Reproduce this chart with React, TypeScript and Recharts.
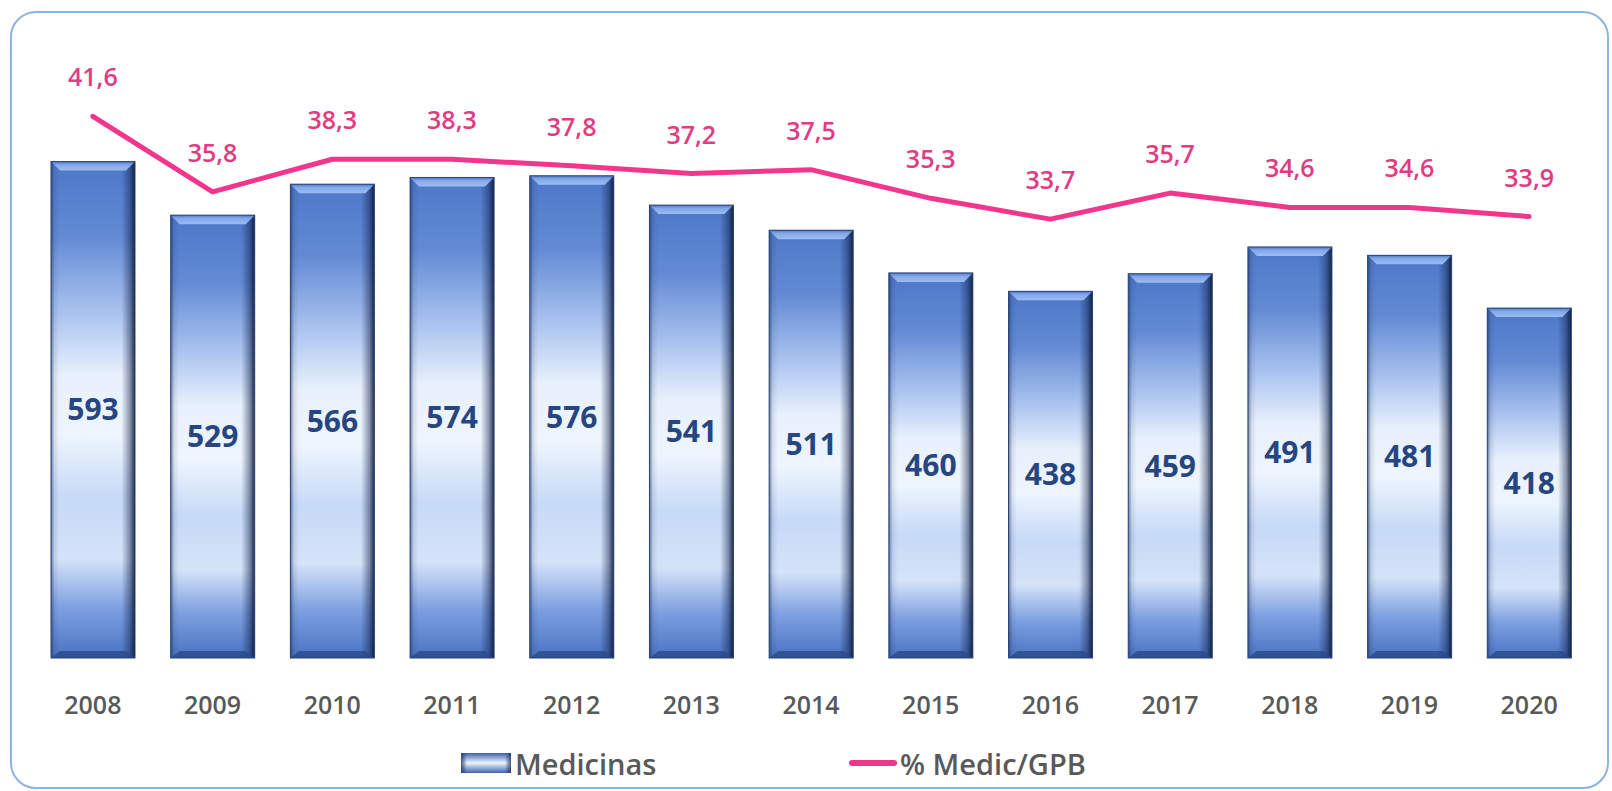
import { Bar, ComposedChart, LabelList, Legend, Line, XAxis, YAxis } from "recharts"

// values
const years = ["2008", "2009", "2010", "2011", "2012", "2013", "2014", "2015", "2016", "2017", "2018", "2019", "2020"]
const medicinas = [593, 529, 566, 574, 576, 541, 511, 460, 438, 459, 491, 481, 418]
const medicGpb = [41.6, 35.8, 38.3, 38.3, 37.8, 37.2, 37.5, 35.3, 33.7, 35.7, 34.6, 34.6, 33.9]

const data = years.map((year, i) => ({
  year,
  medicinas: medicinas[i],
  pct: medicGpb[i],
}))

const FONT = "'Open Sans', 'Noto Sans', sans-serif"
const PINK = "#f2358d"

function BevelBar(props: any) {
  const { x, y, width, height } = props
  if (!height || height <= 0) return null
  const b = 9
  return (
    <g>
      <rect x={x} y={y} width={width} height={height} fill="url(#barVertical)" />
      <rect x={x} y={y} width={width} height={height} fill="url(#barSides)" />
      <polygon
        points={`${x},${y} ${x + width},${y} ${x + width - b},${y + b} ${x + b},${y + b}`}
        fill="url(#barTop)"
      />
      <polygon
        points={`${x},${y + height} ${x + width},${y + height} ${x + width - b},${y + height - 7} ${x + b},${y + height - 7}`}
        fill="#2a4889"
        opacity={0.8}
      />
      <rect x={x} y={y} width={width} height={height} fill="none" stroke="#2a4275" strokeWidth={1} />
    </g>
  )
}

function LegendContent() {
  return (
    <div style={{ position: "relative", height: 40, fontFamily: FONT, fontSize: 29, fontWeight: 600, color: "#595959" }}>
      <div style={{ position: "absolute", left: 460, top: 0, height: 40, display: "flex", alignItems: "center" }}>
        <svg width={52} height={22} style={{ marginRight: 3 }}>
          <defs>
            <linearGradient id="legendSwatch" x1="0" y1="0" x2="0" y2="1">
              <stop offset="0" stopColor="#3d63ad" />
              <stop offset="0.5" stopColor="#eef4fe" />
              <stop offset="1" stopColor="#3d63ad" />
            </linearGradient>
            <linearGradient id="legendSides" x1="0" y1="0" x2="1" y2="0">
              <stop offset="0" stopColor="#1c3366" stopOpacity={0.8} />
              <stop offset="0.12" stopColor="#1c3366" stopOpacity={0} />
              <stop offset="0.88" stopColor="#1c3366" stopOpacity={0} />
              <stop offset="1" stopColor="#1c3366" stopOpacity={0.8} />
            </linearGradient>
          </defs>
          <rect x={1} y={1} width={50} height={20} fill="url(#legendSwatch)" />
          <rect x={1} y={1} width={50} height={20} fill="url(#legendSides)" />
        </svg>
        <span>Medicinas</span>
      </div>
      <div style={{ position: "absolute", left: 849, top: 0, height: 40, display: "flex", alignItems: "center" }}>
        <svg width={48} height={10} style={{ marginRight: 3 }}>
          <line x1={3} y1={5} x2={45} y2={5} stroke={PINK} strokeWidth={6} strokeLinecap="round" />
        </svg>
        <span>% Medic/GPB</span>
      </div>
    </div>
  )
}

export default function App() {
  return (
    <div style={{ position: "absolute", left: 0, top: 0, width: 1612, height: 791, background: "#ffffff" }}>
      <div
        style={{
          position: "absolute",
          left: 10,
          top: 11,
          width: 1599,
          height: 778,
          border: "2px solid #8db3e2",
          borderRadius: 26,
          boxSizing: "border-box",
        }}
      />
      <div style={{ position: "absolute", left: 0, top: 0 }}>
        <ComposedChart width={1612} height={791} data={data} margin={{ top: 72, right: 23, bottom: 8, left: 33 }}>
          <defs>
            <linearGradient id="barVertical" x1="0" y1="0" x2="0" y2="1">
              <stop offset="0" stopColor="#4d77c8" />
              <stop offset="0.15" stopColor="#628ad4" />
              <stop offset="0.3" stopColor="#a7c1ee" />
              <stop offset="0.43" stopColor="#e7f0fc" />
              <stop offset="0.55" stopColor="#eef5fe" />
              <stop offset="0.68" stopColor="#c6d9f6" />
              <stop offset="0.8" stopColor="#d5e3f9" />
              <stop offset="0.9" stopColor="#7c9fe0" />
              <stop offset="1" stopColor="#4a73c2" />
            </linearGradient>
            <linearGradient id="barSides" x1="0" y1="0" x2="1" y2="0">
              <stop offset="0" stopColor="#19305f" stopOpacity={0.6} />
              <stop offset="0.04" stopColor="#19305f" stopOpacity={0.12} />
              <stop offset="0.1" stopColor="#19305f" stopOpacity={0} />
              <stop offset="0.84" stopColor="#0f1f46" stopOpacity={0} />
              <stop offset="0.94" stopColor="#0f1f46" stopOpacity={0.45} />
              <stop offset="1" stopColor="#0a1637" stopOpacity={0.9} />
            </linearGradient>
            <linearGradient id="barTop" x1="0" y1="0" x2="0" y2="1">
              <stop offset="0" stopColor="#4b74c4" />
              <stop offset="0.35" stopColor="#83a8ea" />
              <stop offset="1" stopColor="#9dbcf0" />
            </linearGradient>
          </defs>
          <XAxis
            dataKey="year"
            height={85}
            axisLine={false}
            tickLine={false}
            tickSize={0}
            tickMargin={38}
            interval={0}
            tick={{ fill: "#595959", fontSize: 25, fontWeight: 600, fontFamily: FONT }}
          />
          <YAxis yAxisId="left" hide domain={[0, 700]} />
          <YAxis yAxisId="right" orientation="right" hide domain={[0, 45]} />
          <Legend verticalAlign="bottom" content={<LegendContent />} wrapperStyle={{ left: 0, width: 1612, height: 40 }} />
          <Bar yAxisId="left" dataKey="medicinas" name="Medicinas" barSize={84} shape={<BevelBar />} isAnimationActive={false}>
            <LabelList
              dataKey="medicinas"
              position="center"
              fill="#27457f"
              fontSize={30}
              fontWeight={700}
              fontFamily={FONT}
            />
          </Bar>
          <Line
            yAxisId="right"
            type="linear"
            dataKey="pct"
            name="% Medic/GPB"
            stroke={PINK}
            strokeWidth={5}
            strokeLinecap="round"
            strokeLinejoin="round"
            dot={false}
            isAnimationActive={false}
          >
            <LabelList
              dataKey="pct"
              position="top"
              offset={30}
              fill="#e13c82"
              fontSize={25}
              fontWeight={600}
              fontFamily={FONT}
              formatter={(v: any) => String(v).replace(".", ",")}
            />
          </Line>
        </ComposedChart>
      </div>
    </div>
  )
}
